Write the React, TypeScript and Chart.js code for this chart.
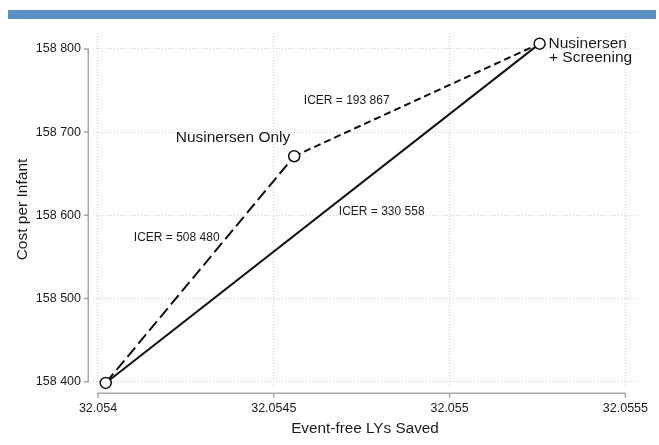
import React, { useEffect, useRef } from 'react';
import { Chart, registerables } from 'chart.js';

Chart.register(...registerables);

// ---- data ----
const strategies = ['No Screening', 'Nusinersen Only', 'Nusinersen + Screening'];
const lysSaved = [32.054022, 32.054558, 32.055256];
const costPerInfant = [158398.5, 158671, 158806.3];
const xTickValues = [32.054, 32.0545, 32.055, 32.0555];
const xTickLabels = ['32.054', '32.0545', '32.055', '32.0555'];
const yTickValues = [158400, 158500, 158600, 158700, 158800];
const yTickLabels = ['158 400', '158 500', '158 600', '158 700', '158 800'];
const icerLabels = ['ICER = 508 480', 'ICER = 193 867', 'ICER = 330 558'];
const xTitle = 'Event-free LYs Saved';
const yTitle = 'Cost per Infant';

const FONT = '"Liberation Sans", Arial, Helvetica, sans-serif';

const pt = (i: number) => ({ x: lysSaved[i], y: costPerInfant[i] });

const decorPlugin = {
  id: 'decor',
  beforeDraw(chart: any) {
    const ctx = chart.ctx;
    ctx.save();
    ctx.fillStyle = '#ffffff';
    ctx.fillRect(0, 0, chart.width, chart.height);
    ctx.fillStyle = '#5b8fc3';
    ctx.fillRect(8, 10, 648, 9);
    ctx.restore();
  },
  afterDraw(chart: any) {
    const ctx = chart.ctx;
    const xa = chart.scales.x;
    const ya = chart.scales.y;
    const area = chart.chartArea;
    ctx.save();
    // offset axis lines (Stata style)
    ctx.strokeStyle = '#a8a8a8';
    ctx.lineWidth = 1.5;
    const axX = area.left - 4.7;
    const yTop = ya.getPixelForValue(yTickValues[yTickValues.length - 1]);
    const yBot = ya.getPixelForValue(yTickValues[0]);
    ctx.beginPath();
    ctx.moveTo(axX, yTop);
    ctx.lineTo(axX, yBot);
    yTickValues.forEach((v) => {
      const py = ya.getPixelForValue(v);
      ctx.moveTo(axX - 4.5, py);
      ctx.lineTo(axX + 0.75, py);
    });
    const axY = area.bottom + 7.3;
    const xL = xa.getPixelForValue(xTickValues[0]);
    const xR = xa.getPixelForValue(xTickValues[xTickValues.length - 1]);
    ctx.moveTo(xL, axY);
    ctx.lineTo(xR, axY);
    xTickValues.forEach((v) => {
      const px = xa.getPixelForValue(v);
      ctx.moveTo(px, axY - 0.75);
      ctx.lineTo(px, axY + 4.5);
    });
    ctx.stroke();

    // annotations
    ctx.fillStyle = '#1a1a1a';
    ctx.textBaseline = 'middle';
    ctx.font = `15.5px ${FONT}`;
    ctx.textAlign = 'center';
    ctx.fillText(strategies[1], 233, 137.5);
    ctx.textAlign = 'left';
    ctx.fillText('Nusinersen', 548.5, 43.5);
    ctx.fillText('+ Screening', 549, 58);
    ctx.font = `12px ${FONT}`;
    ctx.textAlign = 'center';
    ctx.fillText(icerLabels[0], 176.7, 237.5);
    ctx.fillText(icerLabels[1], 346.7, 101);
    ctx.fillText(icerLabels[2], 381.7, 212);
    ctx.restore();
  },
};

const zeroPad = (s: any) => {
  s.paddingLeft = 0;
  s.paddingRight = 0;
  s.paddingTop = 0;
  s.paddingBottom = 0;
};

export default function App() {
  const ref = useRef<HTMLCanvasElement | null>(null);
  useEffect(() => {
    if (!ref.current) return;
    const chart = new Chart(ref.current, {
      type: 'scatter',
      data: {
        datasets: [
          {
            label: 'No Screening → Nusinersen Only',
            data: [pt(0), pt(1)],
            showLine: true,
            borderColor: '#111',
            borderWidth: 2,
            borderDash: [12, 5],
            pointRadius: 0,
            clip: false,
            order: 2,
          },
          {
            label: 'Nusinersen Only → Nusinersen + Screening',
            data: [pt(1), pt(2)],
            showLine: true,
            borderColor: '#111',
            borderWidth: 2,
            borderDash: [7, 4],
            pointRadius: 0,
            clip: false,
            order: 2,
          },
          {
            label: 'No Screening → Nusinersen + Screening',
            data: [pt(0), pt(2)],
            showLine: true,
            borderColor: '#111',
            borderWidth: 2,
            pointRadius: 0,
            clip: false,
            order: 2,
          },
          {
            label: 'Strategies',
            data: [pt(0), pt(1), pt(2)],
            showLine: false,
            pointRadius: 5.5,
            pointBorderWidth: 1.5,
            pointBorderColor: '#111',
            pointBackgroundColor: '#ffffff',
            clip: false,
            order: 0,
          },
        ],
      },
      options: {
        responsive: false,
        animation: false,
        events: [],
        layout: { padding: { left: 0, right: 22, top: 33, bottom: 0 } },
        plugins: { legend: { display: false }, tooltip: { enabled: false } },
        scales: {
          x: {
            type: 'linear',
            min: 32.0539858,
            max: 32.055533,
            afterBuildTicks: (s: any) => {
              s.ticks = xTickValues.map((v) => ({ value: v }));
            },
            afterFit: (s: any) => {
              s.height = 59;
              zeroPad(s);
            },
            grid: { color: '#d4d4d4', lineWidth: 1, drawTicks: false },
            border: { display: false, dash: [1, 2] },
            ticks: {
              autoSkip: false,
              maxRotation: 0,
              padding: 15,
              color: '#1a1a1a',
              font: { family: FONT, size: 12.5 },
              callback: (_v: any, i: number) => xTickLabels[i],
            },
            title: {
              display: true,
              text: xTitle,
              color: '#1a1a1a',
              font: { family: FONT, size: 15.3 },
              padding: { top: 0, bottom: 7 },
            },
          },
          y: {
            type: 'linear',
            min: 158394.8,
            max: 158819.1,
            afterBuildTicks: (s: any) => {
              s.ticks = yTickValues.map((v) => ({ value: v }));
            },
            afterFit: (s: any) => {
              s.width = 93;
              zeroPad(s);
            },
            grid: { color: '#d4d4d4', lineWidth: 1, drawTicks: false },
            border: { display: false, dash: [1, 2] },
            ticks: {
              autoSkip: false,
              padding: 12,
              color: '#1a1a1a',
              font: { family: FONT, size: 12.5 },
              callback: (_v: any, i: number) => yTickLabels[i],
            },
            title: {
              display: true,
              text: yTitle,
              color: '#1a1a1a',
              font: { family: FONT, size: 15.5 },
              padding: { top: 13, bottom: 0 },
            },
          },
        },
      },
      plugins: [decorPlugin],
    });
    return () => chart.destroy();
  }, []);
  return (
    <canvas
      ref={ref}
      width={659}
      height={445}
      style={{ position: 'absolute', left: 0, top: 0, width: 659, height: 445 }}
    />
  );
}
